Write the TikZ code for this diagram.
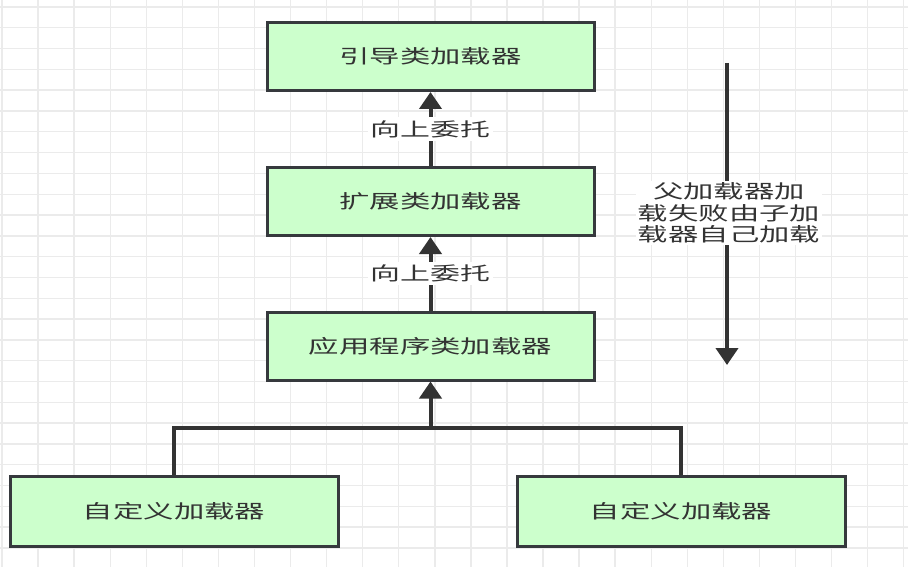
\documentclass[tikz,border=0pt]{standalone}
\usepackage{fontspec}
\usetikzlibrary{arrows.meta}
\newfontfamily\cjkwide[FakeStretch=1.6]{Noto Sans CJK SC}
\definecolor{boxfill}{HTML}{CCFFCC}
\definecolor{boxline}{HTML}{36393D}
\definecolor{txt}{HTML}{333333}
\definecolor{gridc}{HTML}{EBEBEB}
\tikzset{
  loader/.style={draw=boxline, line width=3pt, fill=boxfill, minimum width=327pt, minimum height=68pt, inner sep=0pt, text=txt, font=\cjkwide\fontsize{19}{21}\selectfont},
  conn/.style={draw=txt, line width=4pt},
  arr/.style={conn, -{Triangle[width=22pt,length=17pt]}},
  lbl/.style={fill=white, inner sep=3pt, text=txt, font=\cjkwide\fontsize{18.7}{21}\selectfont}
}
\begin{document}
\begin{tikzpicture}[x=1pt,y=-1pt]
\useasboundingbox (0,0) rectangle (908,567);
\fill[white] (0,0) rectangle (908,567);
\foreach \i in {0,...,25} { \draw[gridc, line width=1.4pt] ({2+36.07*\i},0) -- ({2+36.07*\i},567); }
\foreach \j in {0,...,26} { \draw[gridc, line width=1.4pt] (0,{7+20.8*\j}) -- (908,{7+20.8*\j}); }

\node[loader] (boot) at (430.5,56.5) {引导类加载器};
\node[loader] (ext) at (430.5,201.5) {扩展类加载器};
\node[loader] (app) at (430.5,346) {应用程序类加载器};
\node[loader, minimum width=328pt, minimum height=70pt] (c1) at (174,511) {自定义加载器};
\node[loader, minimum width=328pt, minimum height=70pt] (c2) at (681,511) {自定义加载器};

\draw[arr] (ext.north) -- node[lbl] (l1) {向上委托} (boot.south);
\draw[arr] (app.north) -- node[lbl] (l2) {向上委托} (ext.south);

\coordinate (j) at (430.5,428);
\draw[conn] (c1.north) |- (j) -| (c2.north);
\draw[arr] (j) -- (app.south);

\coordinate (rs) at (727,63);
\coordinate (re) at (727,365);
\draw[arr] (rs) -- (re);
\node[lbl, align=center, inner sep=2pt, font=\cjkwide\fontsize{19}{21.5}\selectfont] (note) at (729,213) {父加载器加\\载失败由子加\\载器自己加载};
\end{tikzpicture}
\end{document}
